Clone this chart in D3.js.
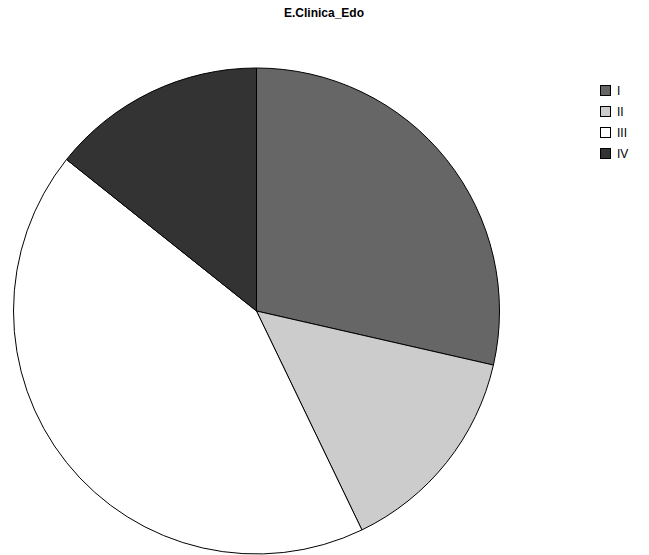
<!DOCTYPE html>
<html>
<head>
<meta charset="utf-8">
<script src="https://cdn.jsdelivr.net/npm/d3@7"></script>
<style>
  html, body { margin: 0; padding: 0; background: #fff; }
  svg { display: block; }
</style>
</head>
<body>
<svg id="chart" width="649" height="555"></svg>
<script>
// Clinical stage distribution
const categories = ["I", "II", "III", "IV"];
const counts = [20, 10, 30, 10];
const fills = ["#666666", "#cccccc", "#ffffff", "#333333"];
const title = "E.Clinica_Edo";

const svg = d3.select("#chart");
const cx = 256.5, cy = 311, radius = 243;

svg.append("text")
  .attr("x", 324).attr("y", 17)
  .attr("text-anchor", "middle")
  .attr("font-family", "Liberation Sans, Arial, sans-serif")
  .attr("font-weight", "bold")
  .attr("font-size", 12)
  .text(title);

const data = categories.map((c, i) => ({ cat: c, value: counts[i], fill: fills[i] }));

const pie = d3.pie().value(d => d.value).sort(null);
const arc = d3.arc().innerRadius(0).outerRadius(radius);

svg.append("g")
  .attr("transform", `translate(${cx},${cy})`)
  .selectAll("path")
  .data(pie(data))
  .join("path")
  .attr("d", arc)
  .attr("fill", d => d.data.fill)
  .attr("stroke", "#000")
  .attr("stroke-width", 1)
  .attr("stroke-linejoin", "round");

const legendY = d3.scaleBand().domain(categories).range([80, 164]);

const legend = svg.append("g")
  .selectAll("g")
  .data(data)
  .join("g")
  .attr("transform", d => `translate(600,${legendY(d.cat)})`);

legend.append("rect")
  .attr("x", 0.5).attr("y", 5.5)
  .attr("width", 10).attr("height", 10)
  .attr("fill", d => d.fill)
  .attr("stroke", "#000")
  .attr("stroke-width", 1);

legend.append("text")
  .attr("x", 17).attr("y", 15)
  .attr("font-family", "Liberation Sans, Arial, sans-serif")
  .attr("font-size", 12)
  .text(d => d.cat);
</script>
</body>
</html>
